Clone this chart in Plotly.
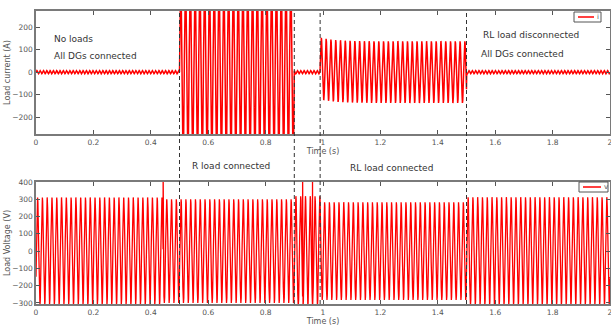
import numpy as np
import plotly.graph_objects as go

# ---------------- data ----------------
t_end = 2.0
dt = 1e-4
grid_f = 60.0            # fundamental frequency of the waveforms (Hz)
ripple_f = 87.0          # apparent ripple frequency of no-load current (Hz)

# Current segments: boundaries (s), peak amplitude (A), initial DC offset (A)
cur_bounds = [0.0, 0.5, 0.9, 0.99, 1.5, 2.0]
cur_amp = [7, 420, 7, 137, 7]
cur_offset = [0, 0, 0, 17, 0]

# Voltage segments: boundaries (s), peak amplitude (V)
volt_bounds = [0.0, 0.443, 0.9, 0.99, 1.5, 2.0]
volt_amp = [310, 300, 318, 283, 312]
volt_phase0 = -0.5       # rad, voltage starts near -150 V

# Voltage transient spikes (s, V)
spike_t = [0.443, 0.4433, 0.4436, 0.929, 0.955, 0.9635, 0.9640]
spike_v = [450, 0, 0, 450, 227, 450, 0]

# Event marker lines (s)
event_lines = [0.5, 0.9, 0.99, 1.5]

x_ticks = [0, 0.2, 0.4, 0.6, 0.8, 1, 1.2, 1.4, 1.6, 1.8, 2]
i_ticks = [-200, -100, 0, 100, 200]
v_ticks = [-300, -200, -100, 0, 100, 200, 300, 400]

series_names = ["i", "v"]

# ---------------- build series ----------------
t = np.arange(0, t_end + dt / 2, dt)

i = np.zeros_like(t)
for k in range(len(cur_amp)):
    a, b = cur_bounds[k], cur_bounds[k + 1]
    m = (t >= a) & (t < b) if k < len(cur_amp) - 1 else (t >= a)
    if cur_amp[k] < 20:
        i[m] = cur_amp[k] * np.sin(2 * np.pi * ripple_f * t[m])
    else:
        i[m] = cur_amp[k] * np.sin(2 * np.pi * grid_f * (t[m] - a)) + \
            cur_offset[k] * np.exp(-(t[m] - a) / 0.05)

v = np.zeros_like(t)
for k in range(len(volt_amp)):
    a, b = volt_bounds[k], volt_bounds[k + 1]
    m = (t >= a) & (t < b) if k < len(volt_amp) - 1 else (t >= a)
    v[m] = volt_amp[k] * np.sin(2 * np.pi * grid_f * t[m] + volt_phase0)
for st, sv in zip(spike_t, spike_v):
    v[int(round(st / dt))] = sv

# ---------------- figure ----------------
W, H = 611, 331
L, R, T, B = 36, 1, 11, 27
ph = H - T - B
pw = W - L - R

def py(y):
    return (H - B - y) / ph

def px(x):
    return (x - L) / pw

RED = "#ff0000"
fig = go.Figure()
fig.add_trace(go.Scatter(x=t, y=i, mode="lines", name=series_names[0],
                         line=dict(color=RED, width=1.5),
                         xaxis="x", yaxis="y", showlegend=False))
fig.add_trace(go.Scatter(x=t, y=v, mode="lines", name=series_names[1],
                         line=dict(color=RED, width=1.3),
                         xaxis="x2", yaxis="y2", showlegend=False))

FONT = "DejaVu Sans"
axcol = "#7a7a7a"
common_x = dict(range=[0, 2], tickvals=x_ticks, ticks="inside", ticklen=4,
                tickcolor="#555", mirror="ticks", showline=True,
                linecolor=axcol, linewidth=1.5, showgrid=False, zeroline=False,
                automargin=False, ticklabeloverflow="allow",
                tickfont=dict(family=FONT, size=7.5, color="#555"),
                title=dict(text="Time (s)", standoff=2,
                           font=dict(family=FONT, size=8, color="#555")))
common_y = dict(ticks="inside", ticklen=4, tickcolor="#555", mirror="ticks",
                showline=True, linecolor=axcol, linewidth=1.5, showgrid=False,
                zeroline=False, automargin=False, ticklabeloverflow="allow",
                tickfont=dict(family=FONT, size=7.5, color="#555"))

fig.update_layout(
    width=W, height=H,
    margin=dict(l=L, r=R, t=T, b=B),
    paper_bgcolor="white", plot_bgcolor="white",
    xaxis=dict(common_x, domain=[0, 1], anchor="y"),
    yaxis=dict(common_y, domain=[py(134), 1], range=[-275, 272],
               tickvals=i_ticks, anchor="x",
               title=dict(text="Load current (A)", standoff=0,
                          font=dict(family=FONT, size=8, color="#555"))),
    xaxis2=dict(common_x, domain=[0, 1], anchor="y2"),
    yaxis2=dict(common_y, domain=[0, py(182)], range=[-306, 400],
                tickvals=v_ticks, anchor="x2",
                title=dict(text="Load Voltage (V)", standoff=0,
                           font=dict(family=FONT, size=8, color="#555"))),
    showlegend=False,
)

for xe in event_lines:
    fig.add_shape(type="line", xref="x", yref="paper", x0=xe, x1=xe,
                  y0=0, y1=1, line=dict(color="#333", width=1, dash="4px,3px"),
                  layer="above")

# legend boxes (key for each panel)
legend_boxes = [(574, 601, 12, 22, series_names[0]),
                (579, 608, 182, 192, series_names[1])]
for x0, x1, y0, y1, nm in legend_boxes:
    fig.add_shape(type="rect", xref="paper", yref="paper",
                  x0=px(x0), x1=px(x1), y0=py(y1), y1=py(y0),
                  line=dict(color="#555", width=1), fillcolor="white",
                  layer="above")
    ym = py((y0 + y1) / 2)
    fig.add_shape(type="line", xref="paper", yref="paper",
                  x0=px(x0 + 4), x1=px(x1 - 7), y0=ym, y1=ym,
                  line=dict(color=RED, width=1.5), layer="above")
    fig.add_annotation(text=nm, x=px(x1 - 6), y=ym, xref="paper", yref="paper",
                       xanchor="left", yanchor="middle", showarrow=False,
                       font=dict(family=FONT, size=7, color="#555"))

notes = [("No loads", 52, 39), ("All DGs connected", 52, 56),
         ("RL load disconnected", 481, 35), ("All DGs connected", 479, 54),
         ("R load connected", 190, 166), ("RL load connected", 348, 168)]
for txt, xx, yy in notes:
    fig.add_annotation(text=txt, x=px(xx), y=py(yy), xref="paper", yref="paper",
                       xanchor="left", yanchor="middle", showarrow=False,
                       font=dict(family=FONT, size=9, color="#333"))

fig.write_html("out.html", config={"displayModeBar": False},
               post_script="document.body.style.margin='0px';"
                           "document.body.style.padding='0px';")
